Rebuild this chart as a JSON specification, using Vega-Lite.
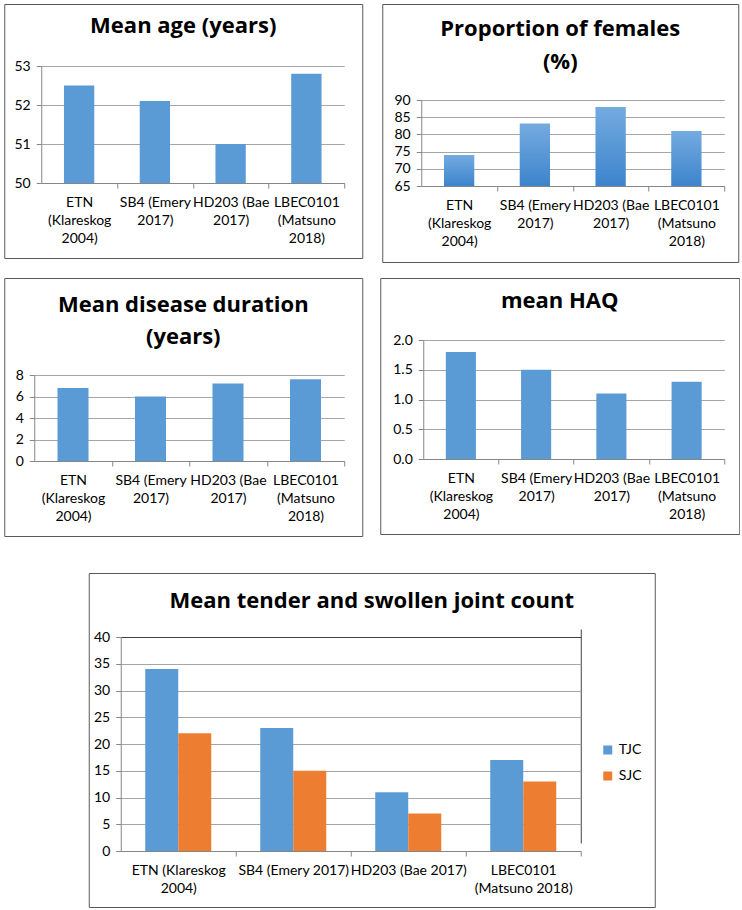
{
  "$schema": "https://vega.github.io/schema/vega-lite/v6.json",
  "padding": {"left": 3, "top": 3, "right": 0, "bottom": 0},
  "background": "white",
  "config": {
    "view": {"stroke": "#595959", "strokeWidth": 1},
    "font": "Lato",
    "title": {"font": "Open Sans", "fontSize": 22, "fontWeight": "bold", "color": "#000000", "anchor": "middle", "frame": "group", "baseline": "alphabetic"},
    "axis": {"labelFont": "Lato", "labelFontSize": 14, "labelColor": "#000000", "domainColor": "#868686", "tickColor": "#868686", "gridColor": "#a6a6a6", "tickSize": 5},
    "bar": {"color": "#5b9bd5"},
    "legend": {"labelFont": "Lato", "labelFontSize": 14, "labelColor": "#000000"}
  },
  "datasets": {
    "age": [
      {"study": "ETN (Klareskog 2004)", "value": 52.5},
      {"study": "SB4 (Emery 2017)", "value": 52.1},
      {"study": "HD203 (Bae 2017)", "value": 51.0},
      {"study": "LBEC0101 (Matsuno 2018)", "value": 52.8}
    ],
    "females": [
      {"study": "ETN (Klareskog 2004)", "value": 74},
      {"study": "SB4 (Emery 2017)", "value": 83.2},
      {"study": "HD203 (Bae 2017)", "value": 88},
      {"study": "LBEC0101 (Matsuno 2018)", "value": 81}
    ],
    "duration": [
      {"study": "ETN (Klareskog 2004)", "value": 6.8},
      {"study": "SB4 (Emery 2017)", "value": 6.0},
      {"study": "HD203 (Bae 2017)", "value": 7.2},
      {"study": "LBEC0101 (Matsuno 2018)", "value": 7.6}
    ],
    "haq": [
      {"study": "ETN (Klareskog 2004)", "value": 1.8},
      {"study": "SB4 (Emery 2017)", "value": 1.5},
      {"study": "HD203 (Bae 2017)", "value": 1.1},
      {"study": "LBEC0101 (Matsuno 2018)", "value": 1.3}
    ],
    "joints": [
      {"study": "ETN (Klareskog 2004)", "measure": "TJC", "value": 34},
      {"study": "ETN (Klareskog 2004)", "measure": "SJC", "value": 22},
      {"study": "SB4 (Emery 2017)", "measure": "TJC", "value": 23},
      {"study": "SB4 (Emery 2017)", "measure": "SJC", "value": 15},
      {"study": "HD203 (Bae 2017)", "measure": "TJC", "value": 11},
      {"study": "HD203 (Bae 2017)", "measure": "SJC", "value": 7},
      {"study": "LBEC0101 (Matsuno 2018)", "measure": "TJC", "value": 17},
      {"study": "LBEC0101 (Matsuno 2018)", "measure": "SJC", "value": 13}
    ]
  },
  "vconcat": [
    {
      "vconcat": [
        {
          "hconcat": [
            {
              "width": 358, "height": 254,
              "title": {"text": "Mean age (years)", "offset": -34},
              "data": {"name": "age"},
              "mark": {"type": "bar"},
              "encoding": {
                "x": {"field": "study", "type": "nominal", "sort": null,
                  "scale": {"range": [37, 340], "paddingInner": 0.6, "paddingOuter": 0.3},
                  "axis": {"title": null, "orient": "bottom", "offset": -75, "labelAngle": 0, "tickOffset": 37.9, "labelOffset": -37.9, "labelPadding": 7, "labelLineHeight": 18, "labelOverlap": false, "labelBound": false,
                    "labelExpr": "datum.label == 'ETN (Klareskog 2004)' ? ['ETN', '(Klareskog', '2004)'] : datum.label == 'SB4 (Emery 2017)' ? ['SB4 (Emery', '2017)'] : datum.label == 'HD203 (Bae 2017)' ? ['HD203 (Bae', '2017)'] : ['LBEC0101', '(Matsuno', '2018)']"}},
                "y": {"field": "value", "type": "quantitative",
                  "scale": {"domain": [50, 53], "range": [179, 62], "nice": false, "zero": false},
                  "axis": {"title": null, "offset": -37, "values": [50, 51, 52, 53], "grid": true, "labelPadding": 6, "format": "d"}},
                "y2": {"datum": 50}
              }
            },
            {
              "width": 356, "height": 258,
              "title": {"text": ["Proportion of females", "(%)"], "offset": -70, "lineHeight": 33},
              "data": {"name": "females"},
              "mark": {"type": "bar", "color": {"gradient": "linear", "x1": 0, "y1": 0, "x2": 0, "y2": 1, "stops": [{"offset": 0, "color": "#74abe0"}, {"offset": 1, "color": "#3d84cc"}]}},
              "encoding": {
                "x": {"field": "study", "type": "nominal", "sort": null,
                  "scale": {"range": [39, 342], "paddingInner": 0.6, "paddingOuter": 0.3},
                  "axis": {"title": null, "orient": "bottom", "offset": -76, "labelAngle": 0, "tickOffset": 37.9, "labelOffset": -37.9, "labelPadding": 7, "labelLineHeight": 18, "labelOverlap": false, "labelBound": false,
                    "labelExpr": "datum.label == 'ETN (Klareskog 2004)' ? ['ETN', '(Klareskog', '2004)'] : datum.label == 'SB4 (Emery 2017)' ? ['SB4 (Emery', '2017)'] : datum.label == 'HD203 (Bae 2017)' ? ['HD203 (Bae', '2017)'] : ['LBEC0101', '(Matsuno', '2018)']"}},
                "y": {"field": "value", "type": "quantitative",
                  "scale": {"domain": [65, 90], "range": [182, 96], "nice": false, "zero": false},
                  "axis": {"title": null, "offset": -39, "values": [65, 70, 75, 80, 85, 90], "grid": true, "labelPadding": 6, "format": "d"}},
                "y2": {"datum": 65}
              }
            }
          ],
          "spacing": 18
        },
        {
          "hconcat": [
            {
              "width": 358, "height": 258,
              "title": {"text": ["Mean disease duration", "(years)"], "offset": -71, "lineHeight": 32},
              "data": {"name": "duration"},
              "mark": {"type": "bar"},
              "encoding": {
                "x": {"field": "study", "type": "nominal", "sort": null,
                  "scale": {"range": [30, 340], "paddingInner": 0.6, "paddingOuter": 0.3},
                  "axis": {"title": null, "orient": "bottom", "offset": -75, "labelAngle": 0, "tickOffset": 38.75, "labelOffset": -38.75, "labelPadding": 7, "labelLineHeight": 18, "labelOverlap": false, "labelBound": false,
                    "labelExpr": "datum.label == 'ETN (Klareskog 2004)' ? ['ETN', '(Klareskog', '2004)'] : datum.label == 'SB4 (Emery 2017)' ? ['SB4 (Emery', '2017)'] : datum.label == 'HD203 (Bae 2017)' ? ['HD203 (Bae', '2017)'] : ['LBEC0101', '(Matsuno', '2018)']"}},
                "y": {"field": "value", "type": "quantitative",
                  "scale": {"domain": [0, 8], "range": [183, 97], "nice": false, "zero": true},
                  "axis": {"title": null, "offset": -30, "values": [0, 2, 4, 6, 8], "grid": true, "labelPadding": 6, "format": "d"}}
              }
            },
            {
              "width": 359, "height": 256,
              "title": {"text": "mean HAQ", "offset": -35},
              "data": {"name": "haq"},
              "mark": {"type": "bar"},
              "encoding": {
                "x": {"field": "study", "type": "nominal", "sort": null,
                  "scale": {"range": [43, 344], "paddingInner": 0.6, "paddingOuter": 0.3},
                  "axis": {"title": null, "orient": "bottom", "offset": -75, "labelAngle": 0, "tickOffset": 37.6, "labelOffset": -37.6, "labelPadding": 7, "labelLineHeight": 18, "labelOverlap": false, "labelBound": false,
                    "labelExpr": "datum.label == 'ETN (Klareskog 2004)' ? ['ETN', '(Klareskog', '2004)'] : datum.label == 'SB4 (Emery 2017)' ? ['SB4 (Emery', '2017)'] : datum.label == 'HD203 (Bae 2017)' ? ['HD203 (Bae', '2017)'] : ['LBEC0101', '(Matsuno', '2018)']"}},
                "y": {"field": "value", "type": "quantitative",
                  "scale": {"domain": [0, 2], "range": [181, 62], "nice": false, "zero": true},
                  "axis": {"title": null, "offset": -43, "values": [0, 0.5, 1, 1.5, 2], "grid": true, "labelPadding": 6, "format": ".1f"}}
              }
            }
          ],
          "spacing": 16
        }
      ],
      "spacing": 14
    },
    {
      "width": 566, "height": 334,
      "title": {"text": "Mean tender and swollen joint count", "offset": -40},
      "data": {"name": "joints"},
      "mark": {"type": "bar"},
      "encoding": {
        "x": {"field": "study", "type": "nominal", "sort": null,
          "scale": {"range": [32, 492], "paddingInner": 0.426, "paddingOuter": 0.213},
          "axis": {"title": null, "orient": "bottom", "offset": -56, "labelAngle": 0, "tickOffset": 57.5, "labelOffset": -57.5, "labelPadding": 7, "labelLineHeight": 18, "labelOverlap": false, "labelBound": false,
            "grid": true, "gridColor": {"condition": {"test": "datum.value == 'LBEC0101 (Matsuno 2018)'", "value": "#404040"}, "value": "transparent"},
            "labelExpr": "datum.label == 'ETN (Klareskog 2004)' ? ['ETN (Klareskog', '2004)'] : datum.label == 'LBEC0101 (Matsuno 2018)' ? ['LBEC0101', '(Matsuno 2018)'] : datum.label"}},
        "xOffset": {"field": "measure", "type": "nominal", "sort": ["TJC", "SJC"]},
        "y": {"field": "value", "type": "quantitative",
          "scale": {"domain": [0, 40], "range": [278, 64], "nice": false, "zero": true},
          "axis": {"title": null, "offset": -32, "values": [0, 5, 10, 15, 20, 25, 30, 35, 40], "grid": true, "labelPadding": 6, "format": "d",
            "gridColor": {"condition": {"test": "datum.value == 40", "value": "#404040"}, "value": "#a6a6a6"}}},
        "color": {"field": "measure", "type": "nominal",
          "scale": {"domain": ["TJC", "SJC"], "range": ["#5b9bd5", "#ed7d31"]},
          "legend": {"title": null, "orient": "none", "legendX": 512, "legendY": 170, "symbolType": "square", "symbolSize": 81, "symbolStrokeWidth": 0, "rowPadding": 12, "labelFontSize": 14}}
      }
    }
  ],
  "resolve": {"legend": {"color": "independent"}, "scale": {"color": "independent"}},
  "spacing": 35,
  "center": true
}
